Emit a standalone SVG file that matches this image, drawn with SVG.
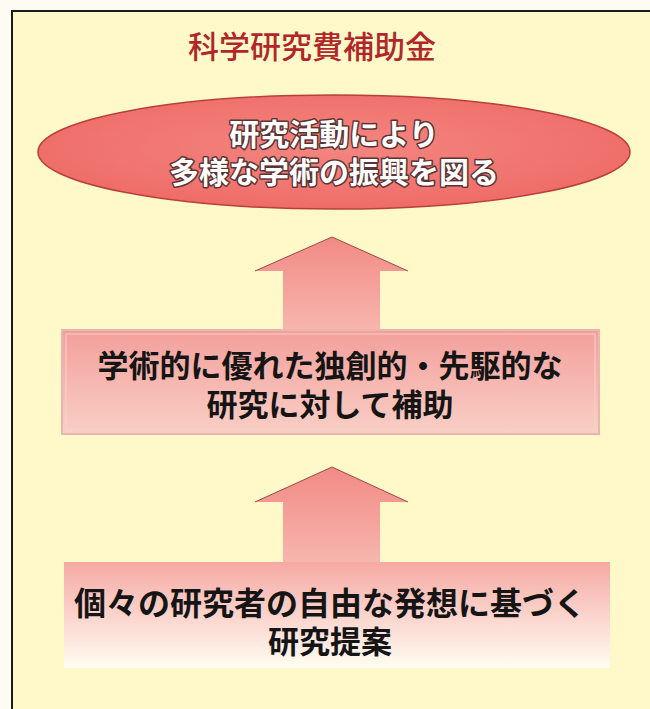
<svg xmlns="http://www.w3.org/2000/svg" width="650" height="709" viewBox="0 0 650 709">
<defs>
<style>
.jp{font-family:"Liberation Sans","Noto Sans CJK JP","Noto Sans CJK SC",sans-serif;text-anchor:middle}
.title{font-size:31px;fill:#b0262a;font-weight:500}
.oval{font-size:30px;font-weight:700;fill:#fff;stroke:#5a3434;stroke-width:3px;paint-order:stroke;stroke-linejoin:round}
.lbl{font-size:31px;font-weight:700;fill:#151515}
.arrow{fill:url(#ga);stroke:none}
</style>
<radialGradient id="ge" cx="0.5" cy="0.45" r="0.6">
<stop offset="0" stop-color="#f48680"/>
<stop offset="1" stop-color="#ee6a66"/>
</radialGradient>
<linearGradient id="ga" x1="0" y1="0" x2="0" y2="1">
<stop offset="0" stop-color="#f28a85"/>
<stop offset="1" stop-color="#f7b6ae"/>
</linearGradient>
<linearGradient id="gb1" x1="0" y1="0" x2="0" y2="1">
<stop offset="0" stop-color="#f39f9b"/>
<stop offset="1" stop-color="#f9cfc6"/>
</linearGradient>
<linearGradient id="gb2" x1="0" y1="0" x2="0" y2="1">
<stop offset="0" stop-color="#f5a9a3"/>
<stop offset="0.55" stop-color="#fbd8d0"/>
<stop offset="1" stop-color="#fffdf2"/>
</linearGradient>
</defs>
<rect x="0" y="0" width="650" height="709" fill="#fdfbf2"/>
<rect x="12" y="11" width="650" height="710" fill="#fff8c8" stroke="#1a1a1a" stroke-width="2"/>
<g id="title"><text class="jp title" x="312" y="58">科学研究費補助金</text></g>
<g id="connectors">
<path class="arrow" d="M332,237 L408,271 L380,271 L380,331 L283,331 L283,271 L255,271 Z"/>
<path d="M255,271 L332,237 L408,271" fill="none" stroke="#9a4a46" stroke-width="1"/>
<path class="arrow" d="M332,467 L408,502 L380,502 L380,563 L283,563 L283,502 L255,502 Z"/>
<path d="M255,502 L332,467 L408,502" fill="none" stroke="#9a4a46" stroke-width="1"/>
</g>
<g id="goal">
<ellipse cx="334" cy="152" rx="296" ry="57" fill="url(#ge)" stroke="#b7403c" stroke-width="1.5"/>
<text class="jp oval" x="334" y="145">研究活動により</text>
<text class="jp oval" x="334" y="183">多様な学術の振興を図る</text>
</g>
<g id="support">
<rect x="62" y="330" width="537" height="104" fill="url(#gb1)" stroke="#e7b7ae" stroke-width="2"/>
<rect x="66" y="334" width="529" height="96" fill="none" stroke="#f8d2cb" stroke-width="1"/>
<text class="jp lbl" x="330" y="377">学術的に優れた独創的・先駆的な</text>
<text class="jp lbl" x="330" y="416">研究に対して補助</text>
</g>
<g id="proposal">
<rect x="64" y="562" width="546" height="106" fill="url(#gb2)"/>
<text class="jp lbl" x="330" y="615" style="font-size:32px">個々の研究者の自由な発想に基づく</text>
<text class="jp lbl" x="330" y="653">研究提案</text>
</g>
</svg>
